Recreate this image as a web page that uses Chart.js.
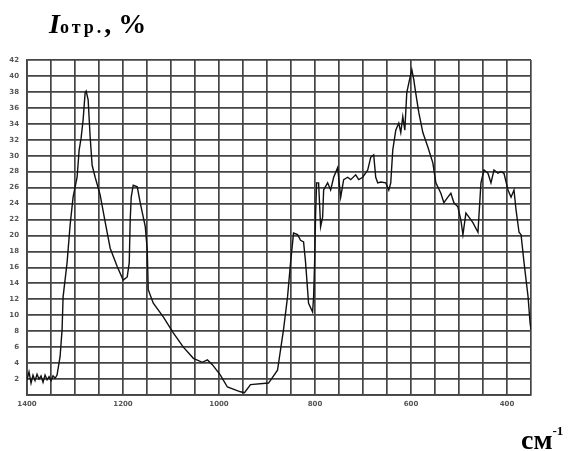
<!DOCTYPE html>
<html>
<head>
<meta charset="utf-8">
<script src="https://cdn.jsdelivr.net/npm/chart.js@4/dist/chart.umd.min.js"></script>
<style>
  body { margin: 0; background: #fff; }
  #wrap { position: relative; width: 570px; height: 451px; overflow: hidden; }
  #title { position: absolute; left: 49px; top: 8px; font-family: "Liberation Serif", serif; font-weight: bold; color: #000; white-space: nowrap; }
  #title .big { font-size: 28px; font-style: italic; }
  #title .sub { font-size: 18px; letter-spacing: 3px; }
  #title .pct { font-size: 28px; }
  #unit { position: absolute; left: 521px; top: 423px; font-family: "Liberation Serif", serif; font-weight: bold; color: #000; white-space: nowrap; }
  #unit .cm { font-size: 28px; }
  #unit sup { font-size: 13px; vertical-align: 14px; }
</style>
</head>
<body>
<div id="wrap">
  <canvas id="spectrum" width="570" height="451"></canvas>
  <div id="title"><span class="big">I</span><span class="sub">отр.</span><span class="pct">, %</span></div>
  <div id="unit"><span class="cm">см</span><sup>-1</sup></div>
</div>
<script>
// wavenumber, cm-1 (axis runs high -> low)
const wavenumbers = [
  1400, 1395.8, 1391.6, 1387.5, 1383.3, 1379.1, 1374.9, 1370.8, 1366.6, 1362.4, 1358.2, 1354.1, 1349.9, 1345.7, 1341.5, 1337.4,
  1331.1, 1326.9, 1324.8, 1316.5, 1310.2, 1304.0, 1295.6, 1291.4, 1287.3, 1283.1, 1278.9, 1276.8, 1272.6, 1268.5, 1264.3,
  1258.0, 1247.6, 1237.2, 1226.7, 1212.1, 1199.6, 1191.2, 1187.0, 1185.0, 1182.9, 1178.7, 1170.3, 1164.1, 1153.6, 1149.5,
  1147.4, 1136.9, 1116.1, 1095.2, 1074.3, 1053.4, 1034.7, 1024.2, 1013.8, 997.1, 982.5, 955.3, 946.9, 934.4, 896.8, 878.1,
  865.6, 857.2, 850.9, 844.7, 836.3, 830.1, 823.8, 819.6, 813.4, 805.0, 802.9, 800.8, 798.7, 796.6, 792.5, 788.3, 784.1,
  782.0, 773.7, 767.4, 761.1, 752.8, 746.5, 740.3, 731.9, 725.6, 715.2, 708.9, 700.6, 690.2, 683.9, 677.7, 673.5, 669.3,
  663.0, 652.6, 646.3, 642.2, 638.0, 631.7, 625.5, 621.3, 617.1, 612.9, 608.8, 604.6, 598.3, 594.1, 592.0, 587.9, 583.7,
  575.3, 564.9, 554.5, 548.2, 537.8, 531.5, 523.2, 516.9, 510.6, 502.3, 496.0, 491.8, 485.6, 479.3, 471.0, 460.5, 454.3,
  448.0, 439.7, 433.4, 427.1, 418.8, 412.5, 406.3, 397.9, 391.6, 385.4, 381.2, 374.9, 370.7, 364.5, 356.1, 351.9, 350
];
// reflected intensity, %
const intensity = [
  1.9, 2.9, 1.5, 2.5, 1.8, 2.6, 2.0, 2.4, 1.6, 2.5, 1.9, 2.3, 1.8, 2.4, 2.1, 2.5,
  4.8, 8.2, 12.3, 16.6, 21.3, 24.8, 27.3, 30.7, 32.2, 34.5, 37.9, 38.1, 37.0, 32.4, 28.8,
  27.3, 25.1, 21.7, 18.4, 16.1, 14.4, 14.8, 16.6, 21.9, 24.8, 26.3, 26.1, 24.1, 21.1, 18.2,
  13.2, 11.5, 9.8, 7.8, 6.0, 4.6, 4.1, 4.4, 3.8, 2.5, 1.0, 0.4, 0.3, 1.3, 1.5, 3.1,
  8.2, 12.3, 16.6, 20.3, 20.1, 19.4, 19.2, 16.6, 11.5, 10.4, 12.3, 16.6, 22.8, 26.6, 26.6, 21.1, 22.3,
  25.7, 26.6, 25.7, 27.3, 28.5, 24.8, 27.0, 27.3, 27.0, 27.6, 27.0, 27.3, 28.2, 29.8, 30.1, 27.3, 26.6,
  26.7, 26.6, 25.7, 26.6, 30.7, 33.2, 34.1, 32.9, 34.9, 33.2, 37.9, 39.1, 40.8, 39.5, 38.6, 37.0, 35.4,
  32.9, 31.1, 29.1, 26.6, 25.3, 24.1, 24.8, 25.3, 24.1, 23.6, 21.9, 20.1, 22.8, 22.3, 21.6, 20.4, 26.6,
  28.2, 27.8, 26.6, 28.2, 27.8, 28.0, 27.8, 25.7, 24.8, 25.7, 23.2, 20.4, 20.1, 16.6, 12.3, 9.0, 8.2
];
const xTickLabels = [1400, 1200, 1000, 800, 600, 400];

const points = wavenumbers.map((w, i) => ({x: w, y: intensity[i]}));
const gridColor = '#444';

new Chart(document.getElementById('spectrum').getContext('2d'), {
  type: 'line',
  data: {
    datasets: [{ data: points, borderColor: '#111', borderWidth: 1.4, pointRadius: 0, tension: 0, fill: false }]
  },
  options: {
    responsive: false,
    animation: false,
    devicePixelRatio: 1,
    layout: { padding: { top: 60, right: 39, bottom: 36, left: 0 } },
    plugins: { legend: { display: false }, tooltip: { enabled: false } },
    scales: {
      x: {
        type: 'linear',
        reverse: true,
        min: 350,
        max: 1400,
        afterFit: s => { s.height = 20; },
        border: { display: true, color: gridColor, width: 1.8 },
        grid: { color: gridColor, lineWidth: 1.7, drawTicks: false },
        ticks: {
          stepSize: 50,
          autoSkip: false,
          maxRotation: 0,
          padding: 5,
          color: '#555',
          font: { size: 7, family: 'DejaVu Sans', weight: 'bold' },
          callback: v => xTickLabels.includes(v) ? v : ''
        }
      },
      y: {
        min: 0,
        max: 42,
        afterFit: s => { s.width = 27; },
        border: { display: true, color: gridColor, width: 1.8 },
        grid: { color: gridColor, lineWidth: 1.7, drawTicks: false },
        ticks: {
          stepSize: 2,
          autoSkip: false,
          padding: 8,
          color: '#555',
          font: { size: 7, family: 'DejaVu Sans', weight: 'bold' },
          callback: v => v === 0 ? '' : v
        }
      }
    }
  }
});
</script>
</body>
</html>
